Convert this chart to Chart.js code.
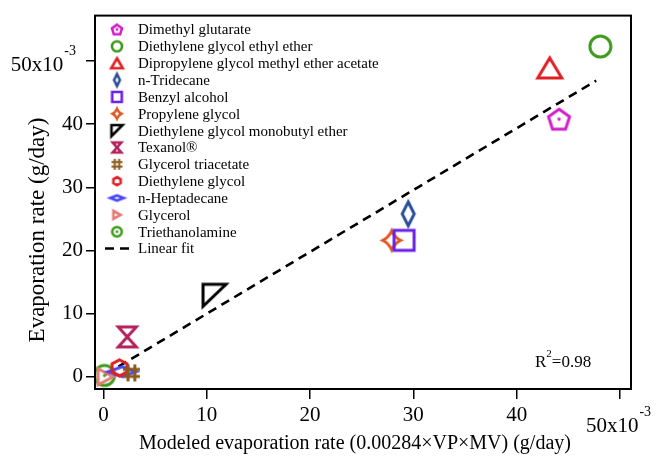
<!DOCTYPE html>
<html>
<head>
<meta charset="utf-8">
<script src="https://cdn.jsdelivr.net/npm/chart.js@4.4.1/dist/chart.umd.min.js"></script>
<style>
  body { margin: 0; background: #fff; }
  #wrap { width: 656px; height: 457px; }
</style>
</head>
<body>
<div id="wrap"><canvas id="chart"></canvas></div>
<script>
// values in units of 10^-3 g/day
const solvents = [
  "Dimethyl glutarate", "Diethylene glycol ethyl ether", "Dipropylene glycol methyl ether acetate",
  "n-Tridecane", "Benzyl alcohol", "Propylene glycol", "Diethylene glycol monobutyl ether",
  "Texanol®", "Glycerol triacetate", "Diethylene glycol", "n-Heptadecane", "Glycerol", "Triethanolamine"
];
const modeledRate  = [44.1, 48.1, 43.2, 29.5, 29.1, 27.9, 10.75, 2.3, 2.7, 1.55, 1.8, 0.2, 0.1];
const measuredRate = [40.8, 52.3, 48.9, 25.8, 21.6, 21.6, 12.9, 6.3, 0.6, 1.4, 0.8, 0.0, 0.2];
const fitX = [0.2, 47.7];
const fitY = [0.38, 46.9];
const xTicks = [0, 10, 20, 30, 40, 50];
const yTicks = [0, 10, 20, 30, 40, 50];
const rSquared = "0.98";

// marker look per solvent: shape, colour, width, height
const markerStyles = [
  ["pentagon", "#d11fc9", 21, 20],
  ["circle", "#3e9a1c", 21, 21],
  ["triangle", "#e01f24", 24, 20],
  ["diamond", "#2b4f96", 12, 24],
  ["square", "#6a1fe6", 20, 20],
  ["star4", "#e2571f", 18, 19],
  ["corner", "#000000", 23, 22],
  ["hourglass", "#b2215c", 18, 20],
  ["hash", "#8a5a1c", 17, 17],
  ["hexagon", "#e01f24", 15, 16],
  ["diamond", "#4848f5", 28, 10],
  ["triRight", "#e37b78", 15, 16],
  ["circleDot", "#3e9a1c", 20, 20]
];

const SERIF = "'Liberation Serif', 'Times New Roman', serif";

function makeMarker(shape, color, w, h, lw) {
  const pad = lw + 2;
  const c = document.createElement("canvas");
  c.width = Math.ceil(w + pad * 2);
  c.height = Math.ceil(h + pad * 2);
  const g = c.getContext("2d");
  g.translate(c.width / 2, c.height / 2);
  g.strokeStyle = color;
  g.fillStyle = color;
  g.lineWidth = lw;
  g.lineJoin = "miter";
  const a = w / 2, b = h / 2;
  let dot = false;
  g.beginPath();
  if (shape === "pentagon") {
    const R = w / 1.9;
    for (let i = 0; i < 5; i++) {
      const t = -Math.PI / 2 + i * 2 * Math.PI / 5;
      g.lineTo(R * Math.cos(t), R * Math.sin(t) + 0.0955 * R);
    }
    g.closePath();
    dot = true;
  } else if (shape === "circle" || shape === "circleDot") {
    g.arc(0, 0, a, 0, Math.PI * 2);
    dot = shape === "circleDot";
  } else if (shape === "triangle") {
    g.moveTo(0, -b); g.lineTo(a, b); g.lineTo(-a, b); g.closePath();
  } else if (shape === "diamond") {
    g.moveTo(0, -b); g.lineTo(a, 0); g.lineTo(0, b); g.lineTo(-a, 0); g.closePath();
  } else if (shape === "square") {
    g.rect(-a, -b, w, h);
  } else if (shape === "star4") {
    const k = 0.32;
    g.moveTo(0, -b);
    g.quadraticCurveTo(a * k, -b * k, a, 0);
    g.quadraticCurveTo(a * k, b * k, 0, b);
    g.quadraticCurveTo(-a * k, b * k, -a, 0);
    g.quadraticCurveTo(-a * k, -b * k, 0, -b);
    g.closePath();
  } else if (shape === "corner") {
    g.moveTo(-a, -b); g.lineTo(a, -b); g.lineTo(-a, b); g.closePath();
  } else if (shape === "hourglass") {
    g.moveTo(-a, -b); g.lineTo(a, -b); g.lineTo(-a, b); g.lineTo(a, b); g.closePath();
  } else if (shape === "hash") {
    const o = w * 0.2;
    g.moveTo(-o, -b); g.lineTo(-o, b);
    g.moveTo(o, -b); g.lineTo(o, b);
    g.moveTo(-a, -o); g.lineTo(a, -o);
    g.moveTo(-a, o); g.lineTo(a, o);
  } else if (shape === "hexagon") {
    for (let i = 0; i < 6; i++) {
      const t = -Math.PI / 2 + i * Math.PI / 3;
      g.lineTo(a * Math.cos(t) / 0.866, b * Math.sin(t));
    }
    g.closePath();
  } else if (shape === "triRight") {
    g.moveTo(-a, -b); g.lineTo(a, 0); g.lineTo(-a, b); g.closePath();
  }
  g.stroke();
  if (dot) {
    g.beginPath();
    g.arc(0, 0, Math.max(1.3, lw * 0.55), 0, Math.PI * 2);
    g.fill();
  }
  return c;
}

const plotMarkers = markerStyles.map(m => makeMarker(m[0], m[1], m[2], m[3], 3));
const legendMarkers = markerStyles.map(m =>
  m[0] === "hash"
    ? makeMarker(m[0], m[1], 11, 11, 2)
    : makeMarker(m[0], m[1], m[2] * 0.48, m[3] * 0.5, 2.6));

const datasets = solvents.map((name, i) => ({
  label: name,
  data: [{ x: modeledRate[i], y: measuredRate[i] }],
  pointStyle: plotMarkers[i],
  pointRadius: 10,
  showLine: false
}));
datasets.push({
  label: "Linear fit",
  data: fitX.map((x, i) => ({ x: x, y: fitY[i] })),
  showLine: true,
  borderColor: "#000",
  borderWidth: 2.6,
  borderDash: [9, 6],
  pointRadius: 0,
  fill: false
});

// "50x10^-3" label, x is its left edge or its right edge
function sciLabel(ctx, x, y, align) {
  ctx.font = "21px " + SERIF;
  const base = "50x10";
  const bw = ctx.measureText(base).width;
  ctx.font = "14px " + SERIF;
  const sw = ctx.measureText("-3").width;
  const left = align === "right" ? x - bw - sw - 1 : x;
  ctx.textAlign = "left";
  ctx.textBaseline = "alphabetic";
  ctx.font = "21px " + SERIF;
  ctx.fillText(base, left, y);
  ctx.font = "14px " + SERIF;
  ctx.fillText("-3", left + bw + 1, y - 16);
}

const decorations = {
  id: "decorations",
  afterDraw(chart) {
    const ctx = chart.ctx;
    const area = chart.chartArea;
    const xs = chart.scales.x, ys = chart.scales.y;
    ctx.save();
    // frame
    ctx.strokeStyle = "#000";
    ctx.lineWidth = 2;
    ctx.strokeRect(area.left + 1, area.top, area.right - area.left - 1, area.bottom - area.top);

    ctx.fillStyle = "#000";
    sciLabel(ctx, 76, ys.getPixelForValue(50) + 10, "right");
    sciLabel(ctx, xs.getPixelForValue(50) - 34, 432, "left");

    // axis titles
    ctx.font = "20px " + SERIF;
    ctx.textAlign = "center";
    ctx.textBaseline = "alphabetic";
    ctx.fillText("Modeled evaporation rate (0.00284×VP×MV) (g/day)", 355, 449);
    ctx.save();
    ctx.translate(44, 230);
    ctx.rotate(-Math.PI / 2);
    ctx.font = "23px " + SERIF;
    ctx.fillText("Evaporation rate (g/day)", 0, 0);
    ctx.restore();

    // R^2
    ctx.textAlign = "left";
    ctx.font = "17px " + SERIF;
    ctx.fillText("R", 535, 367);
    const rw = ctx.measureText("R").width;
    ctx.font = "11px " + SERIF;
    ctx.fillText("2", 535 + rw, 357);
    const sw = ctx.measureText("2").width;
    ctx.font = "17px " + SERIF;
    ctx.fillText("=" + rSquared, 535 + rw + sw, 367);

    // legend
    ctx.font = "15px " + SERIF;
    ctx.textBaseline = "middle";
    chart.data.datasets.forEach((ds, i) => {
      const y = 29.5 + i * 16.85;
      if (i < legendMarkers.length) {
        const m = legendMarkers[i];
        ctx.drawImage(m, 117 - m.width / 2, y - m.height / 2);
      } else {
        ctx.save();
        ctx.lineWidth = 2.6;
        ctx.setLineDash([9, 6]);
        ctx.beginPath();
        ctx.moveTo(105, y);
        ctx.lineTo(132, y);
        ctx.stroke();
        ctx.restore();
      }
      ctx.fillText(ds.label, 138, y + 1);
    });
    ctx.restore();
  }
};

new Chart(document.getElementById("chart"), {
  type: "scatter",
  data: { datasets: datasets },
  options: {
    responsive: true,
    maintainAspectRatio: false,
    animation: false,
    layout: { padding: { top: 14, right: 25, left: 0, bottom: 0 } },
    plugins: { legend: { display: false }, tooltip: { enabled: false } },
    scales: {
      x: {
        type: "linear",
        min: -0.92,
        max: 51.07,
        afterBuildTicks: s => { s.ticks = xTicks.map(v => ({ value: v })); },
        afterFit: s => { s.height = 68; },
        grid: { drawOnChartArea: false, drawTicks: true, tickLength: 10, color: "#000", lineWidth: 1.5 },
        border: { display: false },
        ticks: {
          color: "#000",
          font: { family: SERIF, size: 21 },
          padding: 4,
          maxRotation: 0,
          callback: v => (v === 50 ? "" : v)
        }
      },
      y: {
        type: "linear",
        min: -1.95,
        max: 57.2,
        afterBuildTicks: s => { s.ticks = yTicks.map(v => ({ value: v })); },
        afterFit: s => { s.width = 94; },
        grid: { drawOnChartArea: false, drawTicks: true, tickLength: 8, color: "#000", lineWidth: 1.5 },
        border: { display: false },
        ticks: {
          color: "#000",
          font: { family: SERIF, size: 21 },
          padding: 3,
          callback: v => (v === 50 ? "" : v)
        }
      }
    }
  },
  plugins: [decorations]
});
</script>
</body>
</html>
